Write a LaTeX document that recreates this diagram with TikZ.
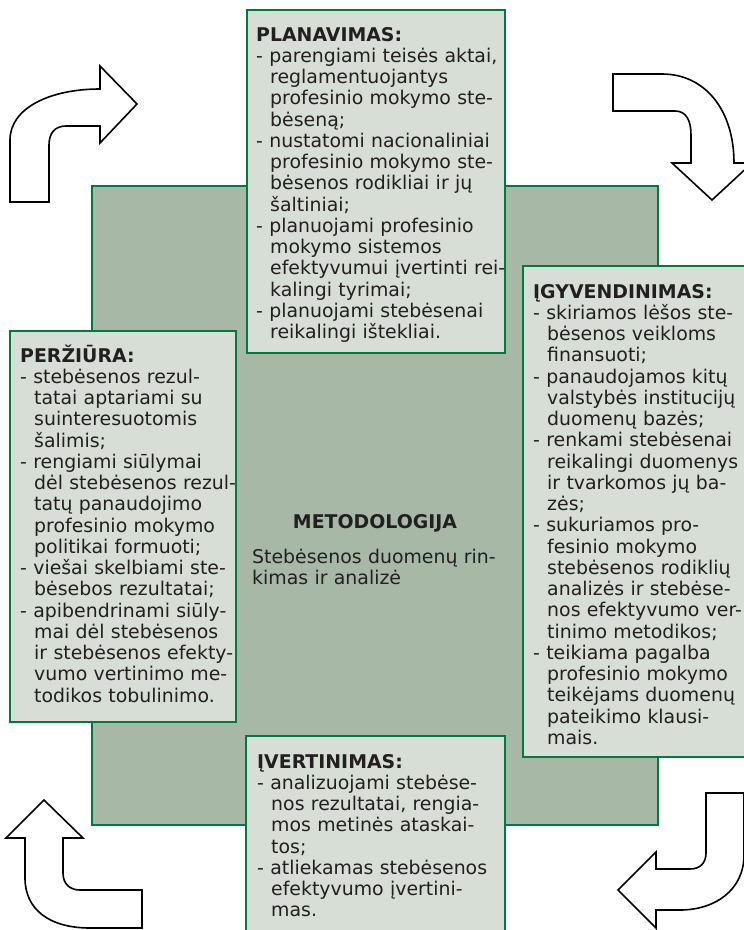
\documentclass[tikz,border=0pt]{standalone}
\usepackage{fontspec}
\setmainfont{DejaVu Sans}
\usepackage{xcolor}

\definecolor{boxgreen}{RGB}{0,122,61}
\definecolor{backfill}{RGB}{167,185,166}
\definecolor{boxfill}{RGB}{214,222,214}
\definecolor{textgray}{RGB}{35,31,32}

\newcommand{\ind}{\hspace*{14pt}}

\tikzset{
  box/.style={draw=boxgreen, line width=2.6pt, fill=boxfill},
  backbox/.style={draw=boxgreen, line width=2pt, fill=backfill},
  blocktext/.style={anchor=base west, inner sep=0pt, text width=300pt, align=left,
    text=textgray, font=\fontsize{18.9}{21.25}\selectfont},
  turnarrow/.style={draw=black, line width=1.6pt, fill=white, line join=miter}
}

\begin{document}
\begin{tikzpicture}[x=1pt, y=-1pt]

\useasboundingbox (0,0) rectangle (744,930);
\clip (0,0) rectangle (744,930);

% background block
\draw[backbox] (92,186) rectangle (658,825);

% four boxes
\draw[box] (247,10) rectangle (505,353);
\draw[box] (523,266) rectangle (752,757);
\draw[box] (10,331) rectangle (236,722);
\draw[box] (246,736) rectangle (505,945);

% turning arrows
\draw[turnarrow] (10,202) -- (10,140) .. controls (10,108) and (50,89) .. (100,89)
  -- (100,66) -- (137,104) -- (100,143) -- (100,126) -- (66,126)
  .. controls (55,126) and (49,133) .. (49,145) -- (49,202) -- cycle;

\draw[turnarrow] (613,74) -- (662,74) .. controls (705,74) and (734,110) .. (734,163)
  -- (752,163) -- (712,200) -- (672,163) -- (691,163) -- (691,135)
  .. controls (691,120) and (686,111) .. (675,111) -- (613,111) -- cycle;

\draw[turnarrow] (744,793) -- (744,855) .. controls (744,890) and (715,910) .. (680,910)
  -- (656,910) -- (656,928) -- (618,890) -- (656,852) -- (656,869) -- (690,869)
  .. controls (700,869) and (706,863) .. (706,853) -- (706,793) -- cycle;

\draw[turnarrow] (142,928) -- (90,928) .. controls (50,928) and (25,910) .. (25,878)
  -- (25,838) -- (6,838) -- (44,800) -- (83,838) -- (63,838) -- (63,873)
  .. controls (63,884) and (70,890) .. (80,890) -- (142,890) -- cycle;

% texts
\node[blocktext] (plan) at (256,41) {{\bfseries PLANAVIMAS:}\\
- parengiami teisės aktai,\\
\ind reglamentuojantys\\
\ind profesinio mokymo ste-\\
\ind bėseną;\\
- nustatomi nacionaliniai\\
\ind profesinio mokymo ste-\\
\ind bėsenos rodikliai ir jų\\
\ind šaltiniai;\\
- planuojami profesinio\\
\ind mokymo sistemos\\
\ind efektyvumui įvertinti rei-\\
\ind kalingi tyrimai;\\
- planuojami stebėsenai\\
\ind reikalingi ištekliai.};

\node[blocktext] (igyv) at (533,298) {{\bfseries ĮGYVENDINIMAS:}\\
- skiriamos lėšos ste-\\
\ind bėsenos veikloms\\
\ind finansuoti;\\
- panaudojamos kitų\\
\ind valstybės institucijų\\
\ind duomenų bazės;\\
- renkami stebėsenai\\
\ind reikalingi duomenys\\
\ind ir tvarkomos jų ba-\\
\ind zės;\\
- sukuriamos pro-\\
\ind fesinio mokymo\\
\ind stebėsenos rodiklių\\
\ind analizės ir stebėse-\\
\ind nos efektyvumo ver-\\
\ind tinimo metodikos;\\
- teikiama pagalba\\
\ind profesinio mokymo\\
\ind teikėjams duomenų\\
\ind pateikimo klausi-\\
\ind mais.};

\node[blocktext] (perz) at (20,362) {{\bfseries PERŽIŪRA:}\\
- stebėsenos rezul-\\
\ind tatai aptariami su\\
\ind suinteresuotomis\\
\ind šalimis;\\
- rengiami siūlymai\\
\ind dėl stebėsenos rezul-\\
\ind tatų panaudojimo\\
\ind profesinio mokymo\\
\ind politikai formuoti;\\
- viešai skelbiami ste-\\
\ind bėsebos rezultatai;\\
- apibendrinami siūly-\\
\ind mai dėl stebėsenos\\
\ind ir stebėsenos efekty-\\
\ind vumo vertinimo me-\\
\ind todikos tobulinimo.};

\node[blocktext] (ivert) at (257,768) {{\bfseries ĮVERTINIMAS:}\\
- analizuojami stebėse-\\
\ind nos rezultatai, rengia-\\
\ind mos metinės ataskai-\\
\ind tos;\\
- atliekamas stebėsenos\\
\ind efektyvumo įvertini-\\
\ind mas.};

\node[anchor=base, inner sep=0pt, text=textgray, font=\fontsize{18.9}{21.25}\selectfont\bfseries]
  (metod) at (375,528) {METODOLOGIJA};
\node[blocktext] (metodtxt) at (252,563) {Stebėsenos duomenų rin-\\
kimas ir analizė};

\end{tikzpicture}
\end{document}
